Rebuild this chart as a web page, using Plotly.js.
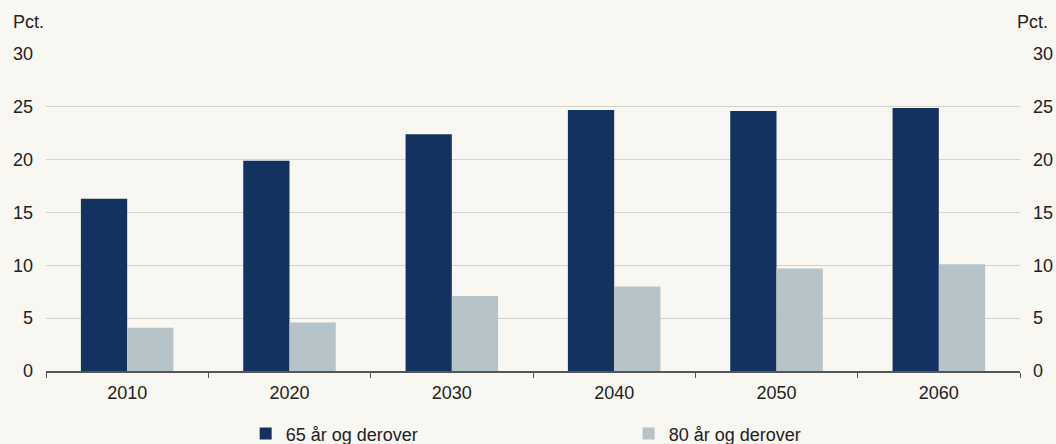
<!DOCTYPE html>
<html><head><meta charset="utf-8">
<script src="https://cdn.plot.ly/plotly-3.0.1.min.js"></script>
<style>html,body{margin:0;padding:0;background:#f8f7f1;}</style>
</head><body><div id="chart" style="width:1056px;height:444px;"></div>
<script>
const years = ['2010','2020','2030','2040','2050','2060'];
const age65 = [16.3, 19.9, 22.4, 24.7, 24.6, 24.9];
const age80 = [4.1, 4.6, 7.1, 8.0, 9.7, 10.1];
const seriesNames = ['65 år og derover', '80 år og derover'];
const yTicks = [0, 5, 10, 15, 20, 25, 30];

const font = {family: 'Liberation Sans, Arial, sans-serif', size: 18, color: '#222'};
const data = [
  {type: 'bar', x: years, y: age65, name: seriesNames[0], marker: {color: '#14325f'}},
  {type: 'bar', x: years, y: age80, name: seriesNames[1], marker: {color: '#b6c4c9'}},
  {type: 'scatter', x: years, y: age65, yaxis: 'y2', mode: 'none', showlegend: false, hoverinfo: 'skip'}
];
const layout = {
  width: 1056, height: 444,
  paper_bgcolor: '#f8f7f1', plot_bgcolor: '#f8f7f1',
  font: font,
  margin: {l: 46, r: 36, t: 54, b: 73, autoexpand: false},
  barmode: 'group', bargap: 0.43, bargroupgap: 0,
  xaxis: {
    type: 'category', tickson: 'boundaries', ticks: 'outside', ticklen: 5, tickcolor: '#555',
    showline: true, linecolor: '#555', linewidth: 2, showgrid: false, tickfont: font,
    ticklabelstandoff: 4, automargin: false
  },
  yaxis: {
    range: [0, 30], tickvals: yTicks, showgrid: true, gridcolor: '#d3d2cd', gridwidth: 1,
    zeroline: false, showline: false, ticks: '', ticklabelstandoff: 12, tickfont: font, automargin: false
  },
  yaxis2: {
    range: [0, 30], tickvals: yTicks, overlaying: 'y', side: 'right', showgrid: false,
    zeroline: false, showline: false, ticks: '', ticklabelstandoff: 12, tickfont: font, automargin: false
  },
  legend: {orientation: 'h', xref: 'paper', x: 0.205, xanchor: 'left',
    yref: 'container', y: 0.023, yanchor: 'middle',
    entrywidth: 338, font: font, bgcolor: 'rgba(0,0,0,0)'},
  annotations: [
    {text: 'Pct.', xref: 'paper', yref: 'paper', x: 0, xshift: -35, y: 1, yshift: 32, xanchor: 'left', yanchor: 'middle', showarrow: false, font: font},
    {text: 'Pct.', xref: 'paper', yref: 'paper', x: 1, xshift: 30, y: 1, yshift: 32, xanchor: 'right', yanchor: 'middle', showarrow: false, font: font}
  ]
};
Plotly.newPlot('chart', data, layout, {displayModeBar: false, staticPlot: true});
</script></body></html>
